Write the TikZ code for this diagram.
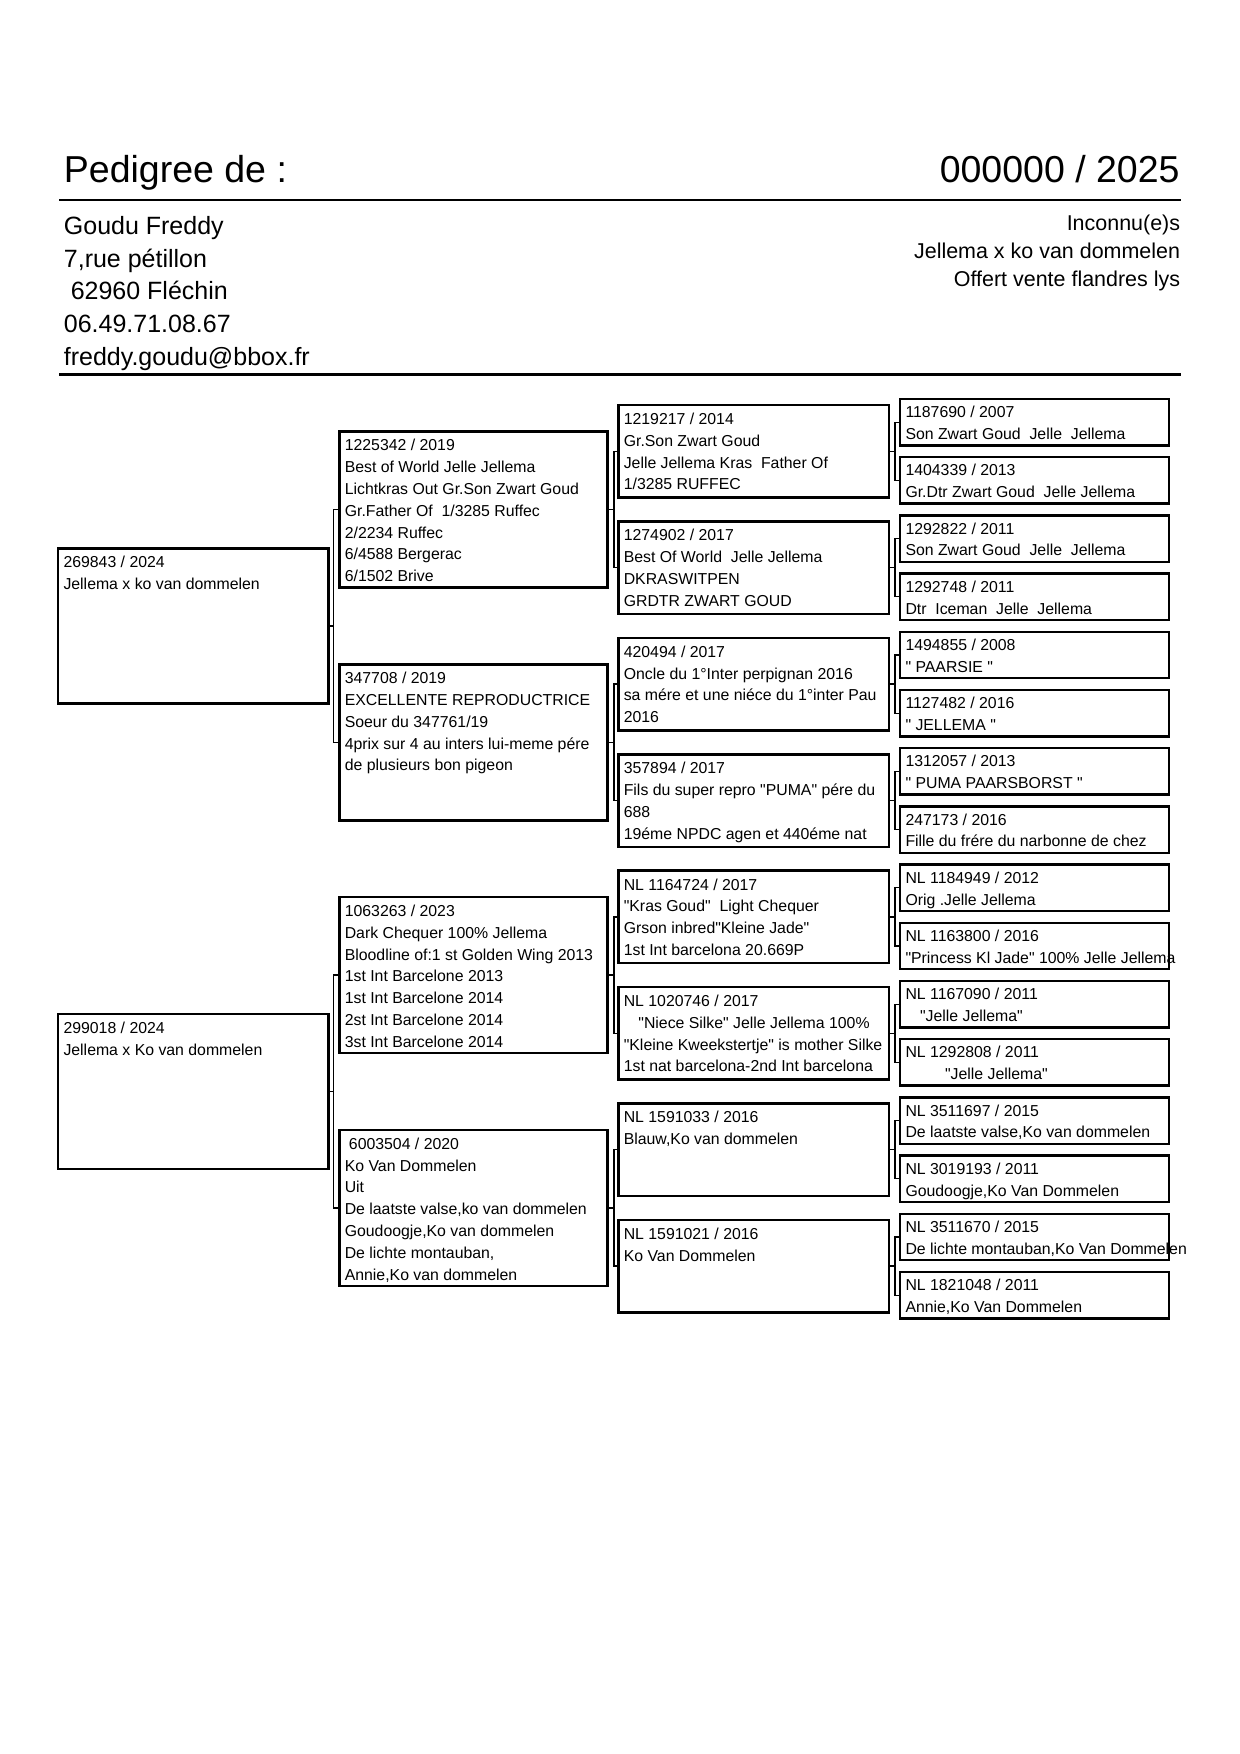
\documentclass[tikz,border=0pt]{standalone}
\usepackage{fontspec}
\setmainfont{Liberation Sans}[Ligatures=TeXOff]
\usetikzlibrary{calc}
\newcommand\pxx{*0.48pt}
\tikzset{
  bx/.style={draw, line width=1.2pt, rectangle, inner sep=0pt, outer sep=0pt},
  gone/.style={bx, minimum width=270.5\pxx, minimum height=155\pxx},
  gtwo/.style={bx, minimum width=268.4\pxx, minimum height=156\pxx},
  gthree/.style={bx, minimum width=270.7\pxx, minimum height=92.5\pxx},
  gfour/.style={bx, minimum width=269\pxx, minimum height=46.4\pxx},
  txt/.style={anchor=north west, inner sep=0pt, outer sep=0pt, align=left,
    font=\fontsize{7.6}{10.45}\selectfont, execute at begin node=\strut},
  conn/.style={line width=0.6pt},
  rulel/.style={line width=1.3pt},
  hdr/.style={inner sep=0pt, font=\fontsize{18}{21}\selectfont},
  addr/.style={inner sep=0pt, anchor=base west, font=\fontsize{12}{14}\selectfont},
  rinfo/.style={inner sep=0pt, anchor=base east, font=\fontsize{10.3}{12}\selectfont},
}
\begin{document}
\begin{tikzpicture}[x=0.48pt, y=-0.48pt]
\useasboundingbox[fill=white] (0,0) rectangle (1240,1754);

% header
\node[hdr, anchor=base west] (title) at (63.5,182.7) {Pedigree de :};
\node[hdr, anchor=base east] (ring) at (1180,182.7) {000000 / 2025};
\coordinate (ra) at (59,200); \coordinate (rb) at (1181,200);
\draw[rulel] (ra) -- (rb);
\node[addr] (a1) at (63.5,234.3) {Goudu Freddy};
\node[addr] (a2) at (63.5,267) {7,rue pétillon};
\node[addr] (a3) at (63.5,299.7) {\hspace*{3.3pt}62960 Fléchin};
\node[addr] (a4) at (63.5,332.4) {06.49.71.08.67};
\node[addr] (a5) at (63.5,365.1) {freddy.goudu@bbox.fr};
\node[rinfo] (r1) at (1180.5,230.9) {Inconnu(e)s};
\node[rinfo] (r2) at (1180.5,258.4) {Jellema x ko van dommelen};
\node[rinfo] (r3) at (1180.5,286) {Offert vente flandres lys};
\coordinate (rc) at (59,374.6); \coordinate (rd) at (1181,374.6);
\draw[rulel] (rc) -- (rd);

% generation 1
\node[gone] (g1a) at (193.25,625.9) {};
\node[gone] (g1b) at (193.25,1091.5) {};
% generation 2
\node[gtwo] (g2a) at (473.5,509.5) {};
\node[gtwo] (g2b) at (473.5,742.3) {};
\node[gtwo] (g2c) at (473.5,975.1) {};
\node[gtwo] (g2d) at (473.5,1207.9) {};
% generation 3
\node[gthree] (g3a) at (753.65,451.3) {};
\node[gthree] (g3b) at (753.65,567.7) {};
\node[gthree] (g3c) at (753.65,684.1) {};
\node[gthree] (g3d) at (753.65,800.5) {};
\node[gthree] (g3e) at (753.65,916.9) {};
\node[gthree] (g3f) at (753.65,1033.3) {};
\node[gthree] (g3g) at (753.65,1149.7) {};
\node[gthree] (g3h) at (753.65,1266.1) {};
% generation 4
\node[gfour] (g4a) at (1034.5,422.2) {};
\node[gfour] (g4b) at (1034.5,480.4) {};
\node[gfour] (g4c) at (1034.5,538.6) {};
\node[gfour] (g4d) at (1034.5,596.8) {};
\node[gfour] (g4e) at (1034.5,655.0) {};
\node[gfour] (g4f) at (1034.5,713.2) {};
\node[gfour] (g4g) at (1034.5,771.4) {};
\node[gfour] (g4h) at (1034.5,829.6) {};
\node[gfour] (g4i) at (1034.5,887.8) {};
\node[gfour] (g4j) at (1034.5,946.0) {};
\node[gfour] (g4k) at (1034.5,1004.2) {};
\node[gfour] (g4l) at (1034.5,1062.4) {};
\node[gfour] (g4m) at (1034.5,1120.6) {};
\node[gfour] (g4n) at (1034.5,1178.8) {};
\node[gfour] (g4o) at (1034.5,1237.0) {};
\node[gfour] (g4p) at (1034.5,1295.2) {};

% connectors
\foreach \p/\c/\d in {g1a/g2a/g2b, g1b/g2c/g2d}{
  \draw[conn] (\p.east) -- ++(5,0);
  \draw[conn] (\c.west) -- ++(-5.8,0) |- (\d.west);
}
\foreach \p/\c/\d in {g2a/g3a/g3b, g2b/g3c/g3d, g2c/g3e/g3f, g2d/g3g/g3h}{
  \draw[conn] (\p.east) -- ++(6.3,0);
  \draw[conn] (\c.west) -- ++(-4.3,0) |- (\d.west);
}
\foreach \p/\c/\d in {g3a/g4a/g4b, g3b/g4c/g4d, g3c/g4e/g4f, g3d/g4g/g4h,
                      g3e/g4i/g4j, g3f/g4k/g4l, g3g/g4m/g4n, g3h/g4o/g4p}{
  \draw[conn] (\p.east) -- ++(6,0);
  \draw[conn] (\c.west) -- ++(-5,0) |- (\d.west);
}

% texts
\node[txt] (g1a-t) at ($(g1a.north west)+(5.5,8)$) {269843 / 2024\\Jellema x ko van dommelen};
\node[txt] (g1b-t) at ($(g1b.north west)+(5.5,8)$) {299018 / 2024\\Jellema x Ko van dommelen};

\node[txt] (g2a-t) at ($(g2a.north west)+(5.5,8)$) {1225342 / 2019\\Best of World Jelle Jellema\\Lichtkras Out Gr.Son Zwart Goud\\Gr.Father Of\ \ 1/3285 Ruffec\\2/2234 Ruffec\\6/4588 Bergerac\\6/1502 Brive};
\node[txt] (g2b-t) at ($(g2b.north west)+(5.5,8)$) {347708 / 2019\\EXCELLENTE REPRODUCTRICE\\Soeur du 347761/19\\4prix sur 4 au inters lui-meme pére\\de plusieurs bon pigeon};
\node[txt] (g2c-t) at ($(g2c.north west)+(5.5,8)$) {1063263 / 2023\\Dark Chequer 100\% Jellema\\Bloodline of:1 st Golden Wing 2013\\1st Int Barcelone 2013\\1st Int Barcelone 2014\\2st Int Barcelone 2014\\3st Int Barcelone 2014};
\node[txt] (g2d-t) at ($(g2d.north west)+(5.5,8)$) {\hspace*{2pt}6003504 / 2020\\Ko Van Dommelen\\Uit\\De laatste valse,ko van dommelen\\Goudoogje,Ko van dommelen\\De lichte montauban,\\Annie,Ko van dommelen};

\node[txt] (g3a-t) at ($(g3a.north west)+(5.5,8)$) {1219217 / 2014\\Gr.Son Zwart Goud\\Jelle Jellema Kras\ \ Father Of\\1/3285 RUFFEC};
\node[txt] (g3b-t) at ($(g3b.north west)+(5.5,8)$) {1274902 / 2017\\Best Of World\ \ Jelle Jellema\\DKRASWITPEN\\GRDTR ZWART GOUD};
\node[txt] (g3c-t) at ($(g3c.north west)+(5.5,8)$) {420494 / 2017\\Oncle du 1°Inter perpignan 2016\\sa mére et une niéce du 1°inter Pau\\2016};
\node[txt] (g3d-t) at ($(g3d.north west)+(5.5,8)$) {357894 / 2017\\Fils du super repro "PUMA" pére du\\688\\19éme NPDC agen et 440éme nat};
\node[txt] (g3e-t) at ($(g3e.north west)+(5.5,8)$) {NL 1164724 / 2017\\"Kras Goud"\ \ Light Chequer\\Grson inbred"Kleine Jade"\\1st Int barcelona 20.669P};
\node[txt] (g3f-t) at ($(g3f.north west)+(5.5,8)$) {NL 1020746 / 2017\\\hspace*{7pt}"Niece Silke" Jelle Jellema 100\%\\"Kleine Kweekstertje" is mother Silke\\1st nat barcelona-2nd Int barcelona};
\node[txt] (g3g-t) at ($(g3g.north west)+(5.5,8)$) {NL 1591033 / 2016\\Blauw,Ko van dommelen};
\node[txt] (g3h-t) at ($(g3h.north west)+(5.5,8)$) {NL 1591021 / 2016\\Ko Van Dommelen};

\node[txt] (g4a-t) at ($(g4a.north west)+(5.5,7.3)$) {1187690 / 2007\\Son Zwart Goud\ \ Jelle\ \ Jellema};
\node[txt] (g4b-t) at ($(g4b.north west)+(5.5,7.3)$) {1404339 / 2013\\Gr.Dtr Zwart Goud\ \ Jelle Jellema};
\node[txt] (g4c-t) at ($(g4c.north west)+(5.5,7.3)$) {1292822 / 2011\\Son Zwart Goud\ \ Jelle\ \ Jellema};
\node[txt] (g4d-t) at ($(g4d.north west)+(5.5,7.3)$) {1292748 / 2011\\Dtr\ \ Iceman\ \ Jelle\ \ Jellema};
\node[txt] (g4e-t) at ($(g4e.north west)+(5.5,7.3)$) {1494855 / 2008\\" PAARSIE "};
\node[txt] (g4f-t) at ($(g4f.north west)+(5.5,7.3)$) {1127482 / 2016\\" JELLEMA "};
\node[txt] (g4g-t) at ($(g4g.north west)+(5.5,7.3)$) {1312057 / 2013\\" PUMA PAARSBORST "};
\node[txt] (g4h-t) at ($(g4h.north west)+(5.5,7.3)$) {247173 / 2016\\Fille du frére du narbonne de chez};
\node[txt] (g4i-t) at ($(g4i.north west)+(5.5,7.3)$) {NL 1184949 / 2012\\Orig .Jelle Jellema};
\node[txt] (g4j-t) at ($(g4j.north west)+(5.5,7.3)$) {NL 1163800 / 2016\\"Princess Kl Jade" 100\% Jelle Jellema};
\node[txt] (g4k-t) at ($(g4k.north west)+(5.5,7.3)$) {NL 1167090 / 2011\\\hspace*{7pt}"Jelle Jellema"};
\node[txt] (g4l-t) at ($(g4l.north west)+(5.5,7.3)$) {NL 1292808 / 2011\\\hspace*{19pt}"Jelle Jellema"};
\node[txt] (g4m-t) at ($(g4m.north west)+(5.5,7.3)$) {NL 3511697 / 2015\\De laatste valse,Ko van dommelen};
\node[txt] (g4n-t) at ($(g4n.north west)+(5.5,7.3)$) {NL 3019193 / 2011\\Goudoogje,Ko Van Dommelen};
\node[txt] (g4o-t) at ($(g4o.north west)+(5.5,7.3)$) {NL 3511670 / 2015\\De lichte montauban,Ko Van Dommelen};
\node[txt] (g4p-t) at ($(g4p.north west)+(5.5,7.3)$) {NL 1821048 / 2011\\Annie,Ko Van Dommelen};
\end{tikzpicture}
\end{document}
